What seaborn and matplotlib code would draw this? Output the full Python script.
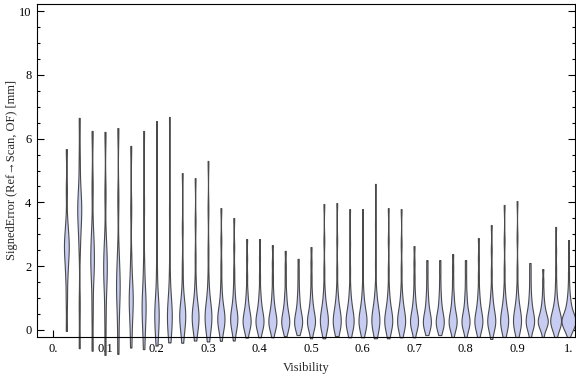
import numpy as np
import pandas as pd
import matplotlib
matplotlib.use("Agg")
import matplotlib.pyplot as plt
from matplotlib.ticker import MultipleLocator
import seaborn as sns

# visibility bins (x positions of the violins)
visibility = [0.025, 0.05, 0.075, 0.1, 0.125, 0.15, 0.175, 0.2, 0.225, 0.25,
              0.275, 0.3, 0.325, 0.35, 0.375, 0.4, 0.425, 0.45, 0.475, 0.5,
              0.525, 0.55, 0.575, 0.6, 0.625, 0.65, 0.675, 0.7, 0.725, 0.75,
              0.775, 0.8, 0.825, 0.85, 0.875, 0.9, 0.925, 0.95, 0.975, 1.0]

# signed error samples per bin [mm]
# (bins with more samples get wider violins: density_norm="count")
signed_error = [
    [-0.03, 0.9, 1.6, 2.0, 2.3, 2.5, 2.65, 2.8, 3.0, 3.4, 4.4, 5.67],
    [-0.57, 0.8, 2.6, 3.3, 3.6, 3.8, 4.0, 4.3, 5.3, 6.65],
    [-0.65, 0.6, 1.6, 2.0, 2.3, 2.6, 3.1, 4.5, 6.24],
    [-0.78, 0.4, 1.3, 1.7, 2.0, 2.3, 2.8, 4.3, 6.21],
    [-0.75, 0.2, 0.9, 1.2, 1.5, 1.8, 2.4, 4.1, 6.33],
    [-0.55, 0.1, 0.55, 0.8, 1.0, 1.2, 1.5, 2.2, 3.8, 5.77],
    [-0.6, 0.0, 0.4, 0.6, 0.8, 1.0, 1.3, 2.1, 3.9, 6.24],
    [-0.49, -0.05, 0.2, 0.35, 0.5, 0.62, 0.78, 1.05, 2.0, 3.9, 6.55],
    [-0.39, -0.05, 0.15, 0.3, 0.42, 0.53, 0.64, 0.78, 1.0, 1.8, 3.7, 6.68],
    [-0.40, -0.1, 0.1, 0.22, 0.32, 0.4, 0.48, 0.56, 0.65, 0.78, 0.95, 1.3, 2.0, 3.2, 4.92],
    [-0.33, -0.08, 0.08, 0.18, 0.26, 0.33, 0.4, 0.47, 0.54, 0.62, 0.72, 0.88, 1.1, 1.5, 2.3, 3.4, 4.76],
    [-0.36, -0.08, 0.08, 0.18, 0.26, 0.33, 0.4, 0.47, 0.54, 0.62, 0.72, 0.88, 1.1, 1.6, 2.5, 3.8, 5.30],
    [-0.34, -0.06, 0.06, 0.14, 0.21, 0.27, 0.33, 0.39, 0.45, 0.52, 0.6, 0.7, 0.85, 1.05, 1.4, 2.0, 2.8, 3.82],
    [-0.33, -0.06, 0.06, 0.14, 0.21, 0.27, 0.33, 0.39, 0.45, 0.52, 0.6, 0.7, 0.85, 1.05, 1.35, 1.85, 2.6, 3.51],
    [-0.24, -0.05, 0.04, 0.1, 0.15, 0.2, 0.25, 0.3, 0.35, 0.4, 0.46, 0.53, 0.61, 0.71, 0.84, 1.0, 1.25, 1.7, 2.25, 2.85],
    [-0.23, -0.04, 0.04, 0.1, 0.15, 0.2, 0.25, 0.3, 0.35, 0.4, 0.46, 0.53, 0.61, 0.71, 0.84, 1.0, 1.25, 1.7, 2.25, 2.85],
    [-0.23, -0.04, 0.04, 0.1, 0.15, 0.2, 0.25, 0.3, 0.35, 0.4, 0.46, 0.53, 0.61, 0.71, 0.84, 1.0, 1.25, 1.65, 2.1, 2.66],
    [-0.19, -0.04, 0.04, 0.1, 0.15, 0.2, 0.25, 0.3, 0.35, 0.4, 0.46, 0.53, 0.61, 0.71, 0.84, 1.0, 1.22, 1.6, 2.0, 2.48],
    [-0.16, -0.03, 0.04, 0.1, 0.15, 0.2, 0.25, 0.3, 0.35, 0.4, 0.46, 0.53, 0.61, 0.71, 0.84, 1.0, 1.2, 1.5, 1.85, 2.23],
    [-0.26, -0.05, 0.04, 0.1, 0.15, 0.2, 0.25, 0.3, 0.35, 0.4, 0.46, 0.53, 0.61, 0.71, 0.84, 1.0, 1.25, 1.65, 2.1, 2.60],
    [-0.26, -0.05, 0.04, 0.1, 0.15, 0.2, 0.25, 0.3, 0.35, 0.4, 0.46, 0.53, 0.61, 0.71, 0.84, 1.0, 1.3, 1.9, 2.8, 3.95],
    [-0.19, -0.04, 0.04, 0.1, 0.15, 0.2, 0.25, 0.3, 0.35, 0.4, 0.46, 0.53, 0.61, 0.71, 0.84, 1.0, 1.3, 1.9, 2.8, 3.98],
    [-0.23, -0.04, 0.04, 0.1, 0.15, 0.2, 0.25, 0.3, 0.35, 0.4, 0.46, 0.53, 0.61, 0.71, 0.84, 1.0, 1.3, 1.9, 2.7, 3.79],
    [-0.23, -0.04, 0.04, 0.1, 0.15, 0.2, 0.25, 0.3, 0.35, 0.4, 0.46, 0.53, 0.61, 0.71, 0.84, 1.0, 1.3, 1.9, 2.7, 3.79],
    [-0.26, -0.05, 0.04, 0.1, 0.15, 0.2, 0.25, 0.3, 0.35, 0.4, 0.46, 0.53, 0.61, 0.71, 0.84, 1.0, 1.3, 2.1, 3.3, 4.58],
    [-0.26, -0.05, 0.04, 0.1, 0.15, 0.2, 0.25, 0.3, 0.35, 0.4, 0.46, 0.53, 0.61, 0.71, 0.84, 1.0, 1.3, 1.9, 2.8, 3.82],
    [-0.23, -0.04, 0.04, 0.1, 0.15, 0.2, 0.25, 0.3, 0.35, 0.4, 0.46, 0.53, 0.61, 0.71, 0.84, 1.0, 1.3, 1.9, 2.7, 3.79],
    [-0.23, -0.04, 0.04, 0.1, 0.15, 0.2, 0.25, 0.3, 0.35, 0.4, 0.46, 0.53, 0.61, 0.71, 0.84, 1.0, 1.25, 1.65, 2.1, 2.63],
    [-0.16, -0.03, 0.04, 0.1, 0.15, 0.2, 0.25, 0.3, 0.35, 0.4, 0.46, 0.53, 0.61, 0.71, 0.84, 1.0, 1.2, 1.5, 1.85, 2.19],
    [-0.16, -0.03, 0.04, 0.1, 0.15, 0.2, 0.25, 0.3, 0.35, 0.4, 0.46, 0.53, 0.61, 0.71, 0.84, 1.0, 1.2, 1.5, 1.85, 2.19],
    [-0.22, -0.04, 0.04, 0.1, 0.15, 0.2, 0.25, 0.3, 0.35, 0.4, 0.46, 0.53, 0.61, 0.71, 0.84, 1.0, 1.2, 1.55, 1.95, 2.38],
    [-0.22, -0.04, 0.04, 0.1, 0.15, 0.2, 0.25, 0.3, 0.35, 0.4, 0.46, 0.53, 0.61, 0.71, 0.84, 1.0, 1.2, 1.5, 1.85, 2.19],
    [-0.22, -0.04, 0.04, 0.1, 0.15, 0.2, 0.25, 0.3, 0.35, 0.4, 0.46, 0.53, 0.61, 0.71, 0.84, 1.0, 1.25, 1.7, 2.25, 2.88],
    [-0.28, -0.05, 0.04, 0.1, 0.15, 0.2, 0.25, 0.3, 0.35, 0.4, 0.46, 0.53, 0.61, 0.71, 0.84, 1.0, 1.25, 1.8, 2.5, 3.29],
    [-0.22, -0.04, 0.04, 0.1, 0.15, 0.2, 0.25, 0.3, 0.35, 0.4, 0.46, 0.53, 0.61, 0.71, 0.84, 1.0, 1.3, 1.9, 2.8, 3.92],
    [-0.22, -0.04, 0.04, 0.1, 0.15, 0.2, 0.25, 0.3, 0.35, 0.4, 0.46, 0.53, 0.61, 0.71, 0.84, 1.0, 1.3, 1.9, 2.9, 4.04],
    [-0.22, -0.04, 0.04, 0.1, 0.15, 0.2, 0.25, 0.3, 0.35, 0.4, 0.45, 0.51, 0.58, 0.66, 0.76, 0.88, 1.03, 1.23, 1.5, 1.8, 2.10],
    [-0.22, -0.05, 0.02, 0.07, 0.11, 0.15, 0.19, 0.22, 0.25, 0.28, 0.31, 0.34, 0.37, 0.41, 0.45, 0.5, 0.55,
     0.61, 0.68, 0.77, 0.88, 1.03, 1.25, 1.55, 1.91],
    [-0.22, -0.05, 0.02, 0.07, 0.11, 0.15, 0.19, 0.22, 0.25, 0.28, 0.31, 0.34, 0.37, 0.41, 0.45, 0.5, 0.55,
     0.61, 0.68, 0.76, 0.86, 1.0, 1.2, 1.5, 1.95, 2.5, 3.23],
    [-0.22, -0.08, -0.03, 0.01, 0.05, 0.08, 0.11, 0.14, 0.17, 0.2, 0.23, 0.25, 0.27, 0.29, 0.31, 0.33, 0.35, 0.37,
     0.4, 0.43, 0.46, 0.5, 0.54, 0.58, 0.63, 0.69, 0.76, 0.84, 0.93, 1.05, 1.2, 1.45, 1.8, 2.3, 2.82],
]

xticks = [0.0, 0.1, 0.2, 0.3, 0.4, 0.5, 0.6, 0.7, 0.8, 0.9, 1.0]
xtick_labels = ["0.", "0.1", "0.2", "0.3", "0.4", "0.5", "0.6", "0.7", "0.8", "0.9", "1."]
yticks = [0, 2, 4, 6, 8, 10]

rows = []
for v, errs in zip(visibility, signed_error):
    for e in errs:
        rows.append((v, e))
df = pd.DataFrame(rows, columns=["Visibility", "SignedError"])

sns.set_style("ticks")
plt.rcParams["font.family"] = ["Liberation Serif", "DejaVu Serif"]

fig = plt.figure(figsize=(5.76, 3.77), dpi=100)
ax = fig.add_axes([37 / 576, 40 / 377, 538 / 576, 333 / 377])

sns.violinplot(ax=ax, data=df, x="Visibility", y="SignedError",
               native_scale=True, inner=None, cut=0, density_norm="count",
               bw_method=0.24, gridsize=300, width=1.09,
               color="#c7cdf2", saturation=1, linecolor="#4a4a4a", linewidth=0.8)

# violin tails run past the frame in the original
for c in ax.collections:
    c.set_clip_on(False)

ax.set_xlim(-0.032, 1.0126)
ax.set_ylim(-0.22, 10.22)
ax.set_xticks(xticks)
ax.set_xticklabels(xtick_labels)
ax.set_yticks(yticks)
ax.yaxis.set_minor_locator(MultipleLocator(0.5))
ax.tick_params(axis="both", which="both", direction="in", colors="black",
               labelsize=9, top=False, right=True)
ax.tick_params(which="major", length=5, width=0.8, pad=4)
ax.tick_params(which="minor", length=2.5, width=0.8)
for s in ax.spines.values():
    s.set_color("black")
    s.set_linewidth(0.8)

ax.set_xlabel("Visibility", fontsize=9, labelpad=5)
ax.set_ylabel("SignedError (Ref\u2192Scan, OF) [mm]", fontsize=9, labelpad=1)

fig.savefig("out.png", dpi=100)
